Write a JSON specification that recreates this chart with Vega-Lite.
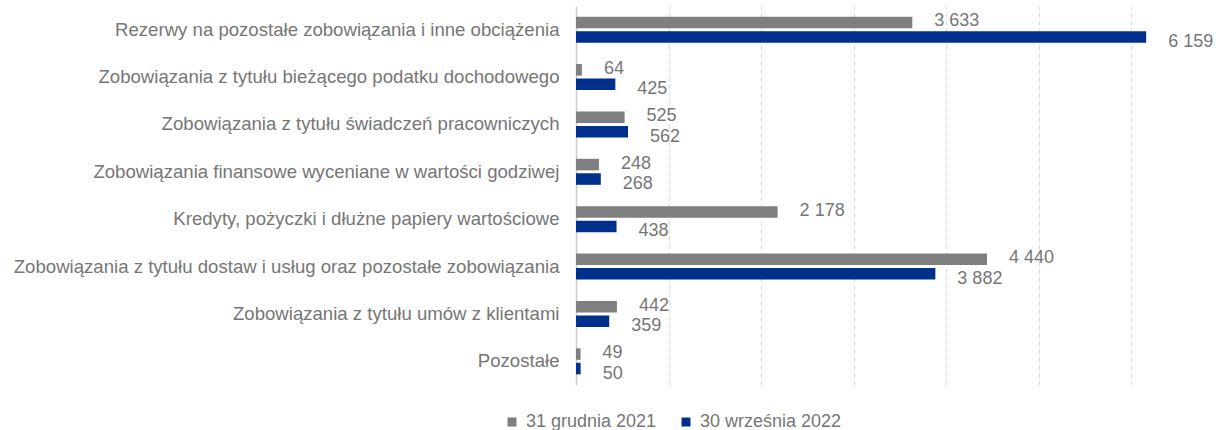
{
  "$schema": "https://vega.github.io/schema/vega-lite/v6.json",
  "width": 648,
  "height": 379,
  "autosize": {"type": "none"},
  "padding": {"left": 576, "top": 6, "right": 0, "bottom": 45},
  "background": "white",
  "config": {
    "view": {"stroke": null},
    "font": "Liberation Sans",
    "locale": {"number": {"decimal": ",", "thousands": " ", "grouping": [3], "currency": ["", " zł"]}}
  },
  "data": {
    "values": [
      {"kategoria": "Rezerwy na pozostałe zobowiązania i inne obciążenia", "okres": "31 grudnia 2021", "wartosc": 3633},
      {"kategoria": "Rezerwy na pozostałe zobowiązania i inne obciążenia", "okres": "30 września 2022", "wartosc": 6159},
      {"kategoria": "Zobowiązania z tytułu bieżącego podatku dochodowego", "okres": "31 grudnia 2021", "wartosc": 64},
      {"kategoria": "Zobowiązania z tytułu bieżącego podatku dochodowego", "okres": "30 września 2022", "wartosc": 425},
      {"kategoria": "Zobowiązania z tytułu świadczeń pracowniczych", "okres": "31 grudnia 2021", "wartosc": 525},
      {"kategoria": "Zobowiązania z tytułu świadczeń pracowniczych", "okres": "30 września 2022", "wartosc": 562},
      {"kategoria": "Zobowiązania finansowe wyceniane w wartości godziwej", "okres": "31 grudnia 2021", "wartosc": 248},
      {"kategoria": "Zobowiązania finansowe wyceniane w wartości godziwej", "okres": "30 września 2022", "wartosc": 268},
      {"kategoria": "Kredyty, pożyczki i dłużne papiery wartościowe", "okres": "31 grudnia 2021", "wartosc": 2178},
      {"kategoria": "Kredyty, pożyczki i dłużne papiery wartościowe", "okres": "30 września 2022", "wartosc": 438},
      {"kategoria": "Zobowiązania z tytułu dostaw i usług oraz pozostałe zobowiązania", "okres": "31 grudnia 2021", "wartosc": 4440},
      {"kategoria": "Zobowiązania z tytułu dostaw i usług oraz pozostałe zobowiązania", "okres": "30 września 2022", "wartosc": 3882},
      {"kategoria": "Zobowiązania z tytułu umów z klientami", "okres": "31 grudnia 2021", "wartosc": 442},
      {"kategoria": "Zobowiązania z tytułu umów z klientami", "okres": "30 września 2022", "wartosc": 359},
      {"kategoria": "Pozostałe", "okres": "31 grudnia 2021", "wartosc": 49},
      {"kategoria": "Pozostałe", "okres": "30 września 2022", "wartosc": 50}
    ]
  },
  "encoding": {
    "y": {
      "field": "kategoria",
      "type": "nominal",
      "sort": null,
      "scale": {"paddingInner": 0.451, "paddingOuter": 0.2255},
      "axis": {
        "title": null,
        "ticks": false,
        "labelPadding": 17,
        "labelFontSize": 18.6,
        "labelColor": "#767676",
        "labelLimit": 0,
        "domainColor": "#cccccc",
        "domainWidth": 1.5
      }
    },
    "yOffset": {
      "field": "okres",
      "type": "nominal",
      "sort": ["31 grudnia 2021", "30 września 2022"],
      "scale": {"paddingInner": 0.2}
    },
    "x": {
      "field": "wartosc",
      "type": "quantitative",
      "scale": {"domain": [0, 7000], "nice": false},
      "axis": {
        "title": null,
        "labels": false,
        "ticks": false,
        "domain": false,
        "grid": true,
        "values": [1000, 2000, 3000, 4000, 5000, 6000, 7000],
        "gridColor": "#dcdcdc",
        "gridDash": [5, 3],
        "gridWidth": 1
      }
    }
  },
  "layer": [
    {
      "mark": {"type": "bar"},
      "encoding": {
        "color": {
          "field": "okres",
          "type": "nominal",
          "sort": ["31 grudnia 2021", "30 września 2022"],
          "scale": {"domain": ["31 grudnia 2021", "30 września 2022"], "range": ["#7f7f7f", "#00308c"]},
          "legend": {
            "title": null,
            "orient": "none",
            "direction": "horizontal",
            "legendX": -73,
            "legendY": 407,
            "symbolType": "square",
            "symbolSize": 81,
            "symbolStrokeWidth": 0,
            "labelFontSize": 18,
            "labelColor": "#767676",
            "labelOffset": 5,
            "columnPadding": 20,
            "padding": 0
          }
        }
      }
    },
    {
      "transform": [{"filter": "datum.okres === '31 grudnia 2021'"}],
      "mark": {"type": "text", "align": "left", "baseline": "middle", "dx": 22, "dy": -1, "fontSize": 18, "color": "#767676"},
      "encoding": {"text": {"field": "wartosc", "type": "quantitative", "format": ",d"}}
    },
    {
      "transform": [{"filter": "datum.okres === '30 września 2022'"}],
      "mark": {"type": "text", "align": "left", "baseline": "middle", "dx": 22, "dy": 5, "fontSize": 18, "color": "#767676"},
      "encoding": {"text": {"field": "wartosc", "type": "quantitative", "format": ",d"}}
    }
  ]
}
